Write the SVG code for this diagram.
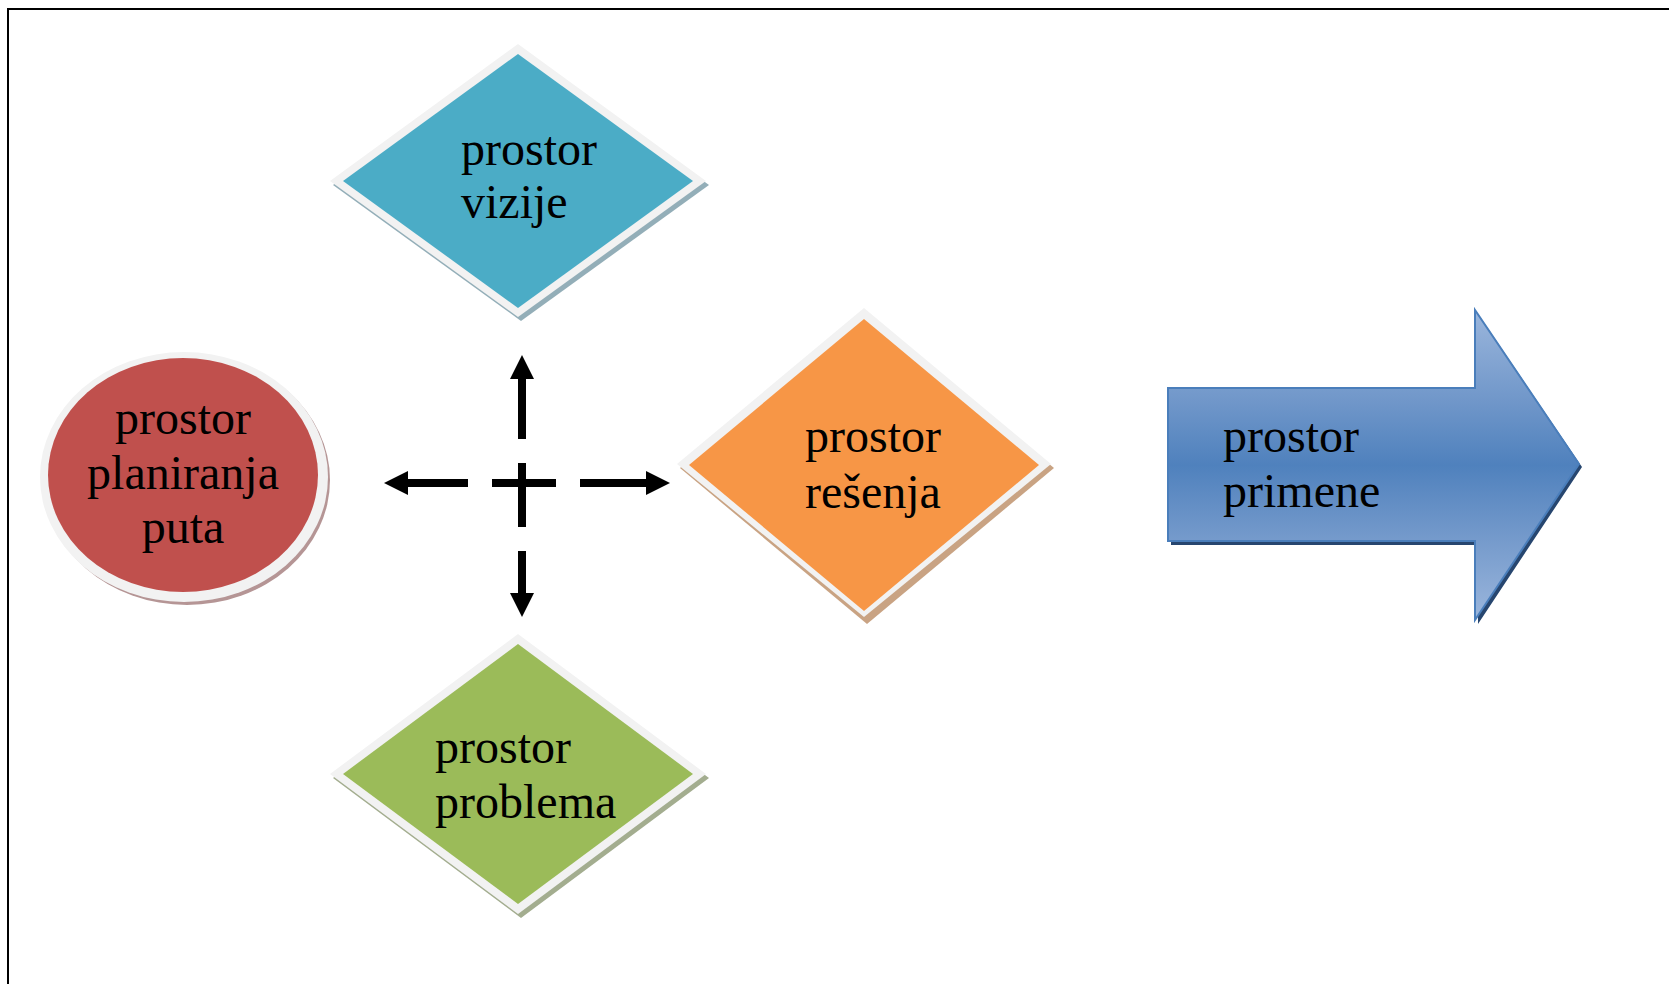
<svg xmlns="http://www.w3.org/2000/svg" width="1669" height="984" viewBox="0 0 1669 984">
<defs>
<linearGradient id="blueGrad" x1="0" y1="0" x2="0" y2="1">
<stop offset="0" stop-color="#9bb6dc"/>
<stop offset="0.3" stop-color="#6f96c9"/>
<stop offset="0.5" stop-color="#4f81bd"/>
<stop offset="0.7" stop-color="#6f96c9"/>
<stop offset="1" stop-color="#9bb6dc"/>
</linearGradient>
<marker id="ah" viewBox="0 0 10 10" refX="0" refY="5" markerWidth="3" markerHeight="3" orient="auto" markerUnits="strokeWidth">
<path d="M0,0 L10,5 L0,10 Z" fill="#000"/>
</marker>
</defs>
<style>
.lbl{font-family:"Liberation Serif","Times New Roman",serif;font-size:48px;fill:#000;}
.rim{fill:#f2f2f2;}
.conn{stroke:#000;stroke-width:8;fill:none;}
</style>
<rect x="0" y="0" width="1669" height="984" fill="#fff"/>
<path d="M8,984 L8,9 L1669,9" fill="none" stroke="#000" stroke-width="2"/>

<g id="node-vizije">
<polygon points="521,48 709,185 521,321 333,185" fill="#93aeb8"/>
<polygon class="rim" points="518,44 706,181 518,317 330,181"/>
<polygon points="518,54 693,181 518,308 343,181" fill="#4bacc6"/>
<text class="lbl" x="461" y="165">prostor</text>
<text class="lbl" x="461" y="218">vizije</text>
</g>

<g id="node-planiranja">
<ellipse cx="187" cy="480" rx="143" ry="125" fill="#b59595"/>
<ellipse class="rim" cx="184" cy="477" rx="144" ry="125"/>
<ellipse cx="183" cy="475" rx="135" ry="117" fill="#c0504d"/>
<text class="lbl" x="183" y="434" text-anchor="middle">prostor</text>
<text class="lbl" x="183" y="489" text-anchor="middle">planiranja</text>
<text class="lbl" x="183" y="543" text-anchor="middle">puta</text>
</g>

<g id="node-resenja">
<polygon points="867,312 1054,468 867,624 680,468" fill="#c9a383"/>
<polygon class="rim" points="864,308 1051,464 864,617 677,464"/>
<polygon points="864,319 1039,465 864,611 689,465" fill="#f79646"/>
<text class="lbl" x="805" y="452">prostor</text>
<text class="lbl" x="805" y="508">rešenja</text>
</g>

<g id="node-problema">
<polygon points="521,638 709,778 521,918 333,778" fill="#a3ad8f"/>
<polygon class="rim" points="518,634 706,774 518,914 330,774"/>
<polygon points="518,644 693,774 518,904 343,774" fill="#9bbb59"/>
<text class="lbl" x="435" y="763">prostor</text>
<text class="lbl" x="435" y="818">problema</text>
</g>

<g id="node-primene">
<polygon points="1171,392 1478,392 1478,314 1582,467 1478,624 1478,545 1171,545" fill="#27466f"/>
<polygon points="1168,388 1475,388 1475,310 1579,464 1475,620 1475,541 1168,541" fill="url(#blueGrad)" stroke="#4a7ebb" stroke-width="2"/>
<text class="lbl" x="1223" y="452">prostor</text>
<text class="lbl" x="1223" y="507">primene</text>
</g>

<g id="connectors">
<line class="conn" x1="492" y1="483" x2="556" y2="483"/>
<line class="conn" x1="522" y1="463" x2="522" y2="527"/>
<line class="conn" x1="522" y1="439" x2="522" y2="379" marker-end="url(#ah)"/>
<line class="conn" x1="468" y1="483" x2="408" y2="483" marker-end="url(#ah)"/>
<line class="conn" x1="580" y1="483" x2="646" y2="483" marker-end="url(#ah)"/>
<line class="conn" x1="522" y1="551" x2="522" y2="593" marker-end="url(#ah)"/>
</g>
</svg>
